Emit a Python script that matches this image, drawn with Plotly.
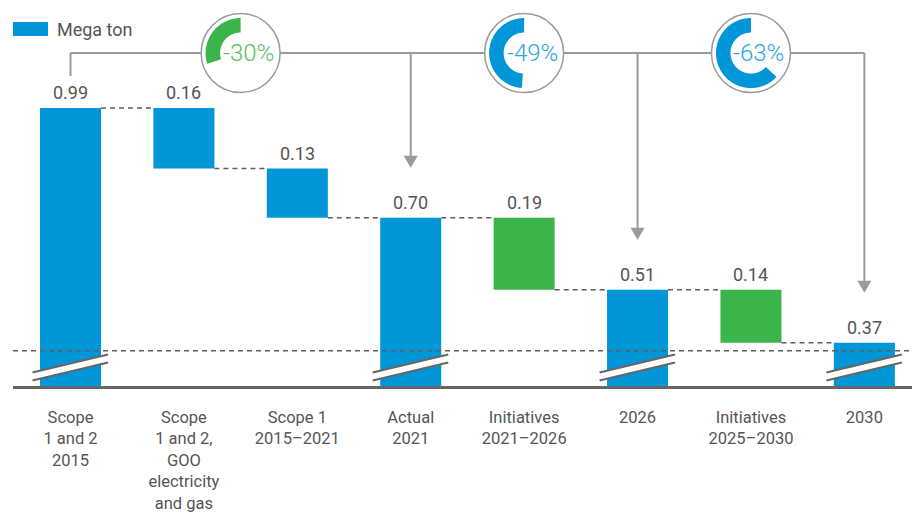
import math
import plotly.graph_objects as go

# ---------------- data ----------------
categories = [
    "Scope<br>1 and 2<br>2015",
    "Scope<br>1 and 2,<br>GOO<br>electricity<br>and gas",
    "Scope 1<br>2015–2021",
    "Actual<br>2021",
    "Initiatives<br>2021–2026",
    "2026",
    "Initiatives<br>2025–2030",
    "2030",
]
values = [0.99, 0.16, 0.13, 0.70, 0.19, 0.51, 0.14, 0.37]
kinds = ["total", "step", "step", "total", "step", "total", "step", "total"]
bar_groups = ["blue", "blue", "blue", "blue", "green", "blue", "green", "blue"]

pct_labels = ["-30%", "-49%", "-63%"]
pct_values = [30, 49, 63]
pct_positions = [1.5, 4, 6]
pct_groups = ["green", "blue", "blue"]
arrow_targets = [3, 5, 7]
legend_label = "Mega ton"

# ---------------- style ----------------
W, H = 912, 514
M_L, M_R, M_T, M_B = 13, 0, 0, 128
Y_MIN, Y_MAX = 0.256, 1.275
X_MIN, X_MAX = -0.507, 7.42
BREAK_LEVEL = 0.349
BRACKET_LEVEL = 1.135
BAR_W = 0.538

FILL = {"blue": "#0096D7", "green": "#3BB54A"}
TEXT = {"blue": "#2BA3DF", "green": "#56BE64"}
GREY_TXT = "#555555"
GREY_LINE = "#9B9B9B"
DASH_COL = "#5E5E5E"
FONT = "Roboto"

px_per_unit = (H - M_T - M_B) / (Y_MAX - Y_MIN)

# ---------------- waterfall geometry ----------------
bottoms, tops, after = [], [], []
running = None
for v, k in zip(values, kinds):
    if k == "total":
        top, bottom = v, Y_MIN
        running = v
    else:
        top, bottom = running, running - v
        running = bottom
    tops.append(top)
    bottoms.append(bottom)
    after.append(running)

xs = list(range(len(categories)))

fig = go.Figure()
fig.add_trace(go.Bar(
    x=xs, y=[t - b for t, b in zip(tops, bottoms)], base=bottoms,
    width=BAR_W, marker=dict(color=[FILL[g] for g in bar_groups], line=dict(width=0)),
    hoverinfo="skip", showlegend=False,
))

shapes = []
annotations = []

# connectors
for i in range(len(xs) - 1):
    shapes.append(dict(type="line", xref="x", yref="y",
                       x0=xs[i] + BAR_W / 2, x1=xs[i + 1] - BAR_W / 2,
                       y0=after[i], y1=after[i],
                       line=dict(color=DASH_COL, width=1.5, dash="5px,4px"), layer="above"))

# break reference dashed line
shapes.append(dict(type="line", xref="paper", yref="y", x0=0, x1=1,
                   y0=BREAK_LEVEL, y1=BREAK_LEVEL,
                   line=dict(color=DASH_COL, width=1.5, dash="5px,4px"), layer="above"))

# axis-break marks on total bars
for i, k in enumerate(kinds):
    if k != "total":
        continue
    common = dict(xref="x", yref="y", xsizemode="pixel", ysizemode="pixel",
                  xanchor=xs[i], yanchor=Y_MIN, layer="above")
    shapes.append(dict(type="path", path="M -38,13.5 L 37.5,31.5 L 37.5,23.5 L -38,5.5 Z",
                       fillcolor="white", line=dict(width=0), **common))
    shapes.append(dict(type="path", path="M -38,13.5 L 37.5,31.5",
                       line=dict(color="#666666", width=2), **common))
    shapes.append(dict(type="path", path="M -38,5.5 L 37.5,23.5",
                       line=dict(color="#666666", width=2), **common))

# bracket lines and arrows
start_top = tops[0] + 32 / px_per_unit
shapes.append(dict(type="line", xref="x", yref="y", x0=xs[0], x1=xs[0],
                   y0=start_top, y1=BRACKET_LEVEL, line=dict(color=GREY_LINE, width=2)))
shapes.append(dict(type="line", xref="x", yref="y", x0=xs[0], x1=arrow_targets[-1],
                   y0=BRACKET_LEVEL, y1=BRACKET_LEVEL, line=dict(color=GREY_LINE, width=2)))
for t in arrow_targets:
    tip = tops[t] + 50 / px_per_unit
    shapes.append(dict(type="line", xref="x", yref="y", x0=t, x1=t,
                       y0=BRACKET_LEVEL, y1=tip + 10 / px_per_unit,
                       line=dict(color=GREY_LINE, width=2)))
    shapes.append(dict(type="path", xref="x", yref="y", xsizemode="pixel", ysizemode="pixel",
                       xanchor=t, yanchor=tip, path="M -7,12 L 7,12 L 0,0 Z",
                       fillcolor=GREY_LINE, line=dict(width=0)))

# percentage donuts
R_C, R_O, R_I = 39.5, 35, 20.5
for lab, pv, pos, grp in zip(pct_labels, pct_values, pct_positions, pct_groups):
    shapes.append(dict(type="circle", xref="x", yref="y", xsizemode="pixel", ysizemode="pixel",
                       xanchor=pos, yanchor=BRACKET_LEVEL, x0=-R_C, x1=R_C, y0=-R_C, y1=R_C,
                       fillcolor="white", line=dict(color=GREY_LINE, width=1.5)))
    n = 80
    a0 = math.pi / 2
    a1 = a0 + 2 * math.pi * pv / 100
    outer = [(R_O * math.cos(a0 + (a1 - a0) * j / n), R_O * math.sin(a0 + (a1 - a0) * j / n)) for j in range(n + 1)]
    inner = [(R_I * math.cos(a1 - (a1 - a0) * j / n), R_I * math.sin(a1 - (a1 - a0) * j / n)) for j in range(n + 1)]
    pts = outer + inner
    path = "M " + " L ".join(f"{x:.2f},{y:.2f}" for x, y in pts) + " Z"
    shapes.append(dict(type="path", xref="x", yref="y", xsizemode="pixel", ysizemode="pixel",
                       xanchor=pos, yanchor=BRACKET_LEVEL, path=path,
                       fillcolor=FILL[grp], line=dict(width=0)))
    annotations.append(dict(x=pos, y=BRACKET_LEVEL, xref="x", yref="y", text=lab,
                            showarrow=False, xshift=8, yshift=0,
                            font=dict(family=FONT, size=24, color=TEXT[grp], weight=300)))

# value labels
for i, v in enumerate(values):
    annotations.append(dict(x=xs[i], y=tops[i], xref="x", yref="y", text=f"{v:.2f}",
                            showarrow=False, yanchor="bottom", yshift=3,
                            font=dict(family=FONT, size=18, color=GREY_TXT)))

# legend
shapes.append(dict(type="rect", xref="paper", yref="paper", xsizemode="pixel", ysizemode="pixel",
                   xanchor=0, yanchor=1, x0=0, x1=35, y0=-22, y1=-36,
                   fillcolor=FILL["blue"], line=dict(width=0)))
annotations.append(dict(x=0, y=1, xref="paper", yref="paper", text=legend_label,
                        showarrow=False, xanchor="left", yanchor="middle", xshift=42, yshift=-29,
                        font=dict(family=FONT, size=18, color=GREY_TXT)))

fig.update_layout(
    width=W, height=H,
    margin=dict(l=M_L, r=M_R, t=M_T, b=M_B, autoexpand=False),
    paper_bgcolor="white", plot_bgcolor="white",
    shapes=shapes, annotations=annotations,
    showlegend=False,
    font=dict(family=FONT, color=GREY_TXT),
    xaxis=dict(range=[X_MIN, X_MAX], tickvals=xs, ticktext=categories, automargin=False,
               showline=True, linecolor="#666666", linewidth=3,
               showgrid=False, zeroline=False, ticks="", ticklabelstandoff=14,
               tickfont=dict(family=FONT, size=16.5, color=GREY_TXT), fixedrange=True),
    yaxis=dict(range=[Y_MIN, Y_MAX], visible=False, automargin=False, fixedrange=True),
)

fig.write_html(
    "out.html",
    config={"displayModeBar": False, "staticPlot": True},
    post_script="document.body.style.margin='0';document.body.style.overflow='hidden';",
)
